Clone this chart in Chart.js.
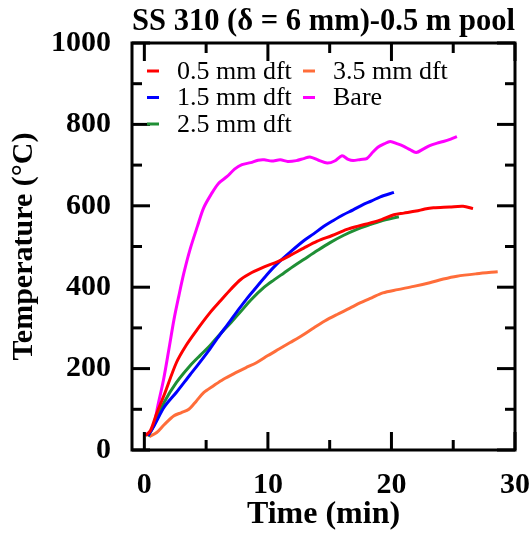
<!DOCTYPE html>
<html>
<head>
<meta charset="utf-8">
<script src="https://cdn.jsdelivr.net/npm/chart.js@4.4.1/dist/chart.umd.min.js"></script>
<style>
html, body { margin: 0; padding: 0; background: #fff; }
#wrap { width: 531px; height: 534px; }
</style>
</head>
<body>
<div id="wrap"><canvas id="tempChart"></canvas></div>
<script>
// Values: time (min) and temperature (degC) for each coating
var time05 = [0.1, 0.5, 1.0, 1.6, 2.6, 3.4, 4.3, 5.3, 6.2, 7.0, 7.8, 8.7, 9.7, 10.8, 11.8, 12.9, 14.0, 15.2, 16.4, 17.3, 18.3, 19.2, 20.2, 21.0, 22.0, 22.7, 23.4, 24.7, 25.8, 26.6];
var temp05 = [35, 48, 90, 135, 215, 258, 297, 337, 368, 395, 419, 436, 450, 463, 478, 496, 513, 527, 542, 550, 558, 566, 578, 582, 587, 592, 595, 597, 599, 593];

var time15 = [0.3, 0.8, 1.6, 2.6, 3.7, 4.3, 5.3, 5.9, 6.7, 7.5, 8.3, 9.1, 9.9, 10.7, 11.8, 12.9, 13.7, 14.5, 15.3, 16.1, 16.9, 17.7, 18.4, 19.1, 20.2];
var temp15 = [35, 60, 105, 142, 185, 208, 248, 274, 307, 340, 372, 401, 430, 456, 486, 514, 531, 549, 564, 578, 590, 603, 612, 622, 633];

var time25 = [0.3, 0.8, 1.6, 2.6, 3.7, 4.5, 5.3, 6.1, 7.0, 7.8, 8.6, 9.7, 10.5, 11.3, 12.1, 12.9, 14.0, 15.0, 16.1, 17.2, 18.2, 19.1, 20.6];
var temp25 = [33, 62, 117, 166, 207, 232, 256, 284, 313, 340, 368, 400, 418, 435, 452, 468, 490, 509, 527, 542, 553, 562, 573];

var time35 = [0.4, 1.0, 1.6, 2.4, 3.0, 3.6, 4.2, 4.8, 5.6, 6.4, 7.4, 8.2, 9.1, 10.0, 10.9, 11.8, 12.8, 13.7, 14.6, 15.6, 16.6, 17.5, 18.4, 19.3, 20.5, 21.8, 23.1, 24.2, 25.3, 26.9, 28.6];
var temp35 = [33, 43, 62, 84, 92, 100, 120, 141, 158, 174, 190, 202, 215, 232, 248, 264, 282, 300, 317, 333, 348, 362, 374, 386, 394, 402, 411, 420, 427, 433, 438];

var timeBare = [0, 0.4, 0.75, 1.1, 1.56, 2.0, 2.4, 2.8, 3.2, 3.7, 4.3, 4.8, 5.4, 6.0, 6.7, 7.3, 7.9, 8.6, 9.2, 9.7, 10.3, 11.0, 11.6, 12.3, 12.9, 13.4, 14.1, 14.8, 15.4, 16.0, 16.5, 16.9, 17.5, 18.0, 18.5, 18.9, 19.4, 19.9, 20.5, 21.0, 21.5, 22.0, 22.6, 23.1, 23.7, 24.2, 24.8, 25.3];
var tempBare = [38, 42, 60, 110, 174, 250, 321, 380, 435, 493, 550, 595, 628, 655, 672, 690, 701, 706, 712, 713, 710, 713, 709, 711, 716, 720, 712, 705, 710, 723, 714, 711, 714, 716, 732, 744, 752, 758, 752, 746, 738, 731, 740, 748, 754, 758, 764, 770];

var seriesLabels = ["0.5 mm dft", "1.5 mm dft", "2.5 mm dft", "3.5 mm dft", "Bare"];
var seriesColors = ["#ff0000", "#0000ff", "#1f8f35", "#ff6d3a", "#ff00ff"];

var xTicks = [0, 10, 20, 30];
var xMinorTicks = [5, 15, 25];
var yTicks = [0, 200, 400, 600, 800, 1000];
var yMinorTicks = [100, 300, 500, 700, 900];

function toPoints(times, temps){
    return times.map(function(t, i){ return {x: t, y: temps[i]}; });
}

var allTimes = [time05, time15, time25, time35, timeBare];
var allTemps = [temp05, temp15, temp25, temp35, tempBare];

// Frame round the plot with inward ticks on all four sides
var frameTicks = {
    id: 'frameTicks',
    afterDatasetsDraw: function(chart){
        var ctx = chart.ctx;
        var a = chart.chartArea;
        var xs = chart.scales.x;
        var ys = chart.scales.y;
        function seg(x1, y1, x2, y2){
            ctx.beginPath();
            ctx.moveTo(x1, y1);
            ctx.lineTo(x2, y2);
            ctx.stroke();
        }
        ctx.save();
        ctx.strokeStyle = '#000';
        ctx.lineWidth = 3;
        xTicks.concat(xMinorTicks).forEach(function(v){
            var len = xTicks.indexOf(v) >= 0 ? 18 : 10;
            var px = xs.getPixelForValue(v);
            seg(px, a.bottom, px, a.bottom - len);
            seg(px, a.top, px, a.top + len);
        });
        yTicks.concat(yMinorTicks).forEach(function(v){
            var len = yTicks.indexOf(v) >= 0 ? 18 : 10;
            var py = ys.getPixelForValue(v);
            seg(a.left, py, a.left + len, py);
            seg(a.right, py, a.right - len, py);
        });
        ctx.strokeRect(a.left, a.top, a.right - a.left, a.bottom - a.top);
        ctx.restore();
    }
};

// Legend sits inside the plot, two columns
var insideLegend = {
    id: 'insideLegend',
    afterDraw: function(chart){
        var ctx = chart.ctx;
        var a = chart.chartArea;
        ctx.save();
        ctx.font = '26px "Liberation Serif", "Times New Roman", serif';
        ctx.textBaseline = 'middle';
        chart.data.datasets.forEach(function(ds, i){
            var col = i < 3 ? 0 : 1;
            var row = i < 3 ? i : i - 3;
            var x = a.left + 15 + col * 156;
            var y = a.top + 28 + row * 26.5;
            ctx.strokeStyle = ds.borderColor;
            ctx.lineWidth = 3;
            ctx.beginPath();
            ctx.moveTo(x, y);
            ctx.lineTo(x + 12, y);
            ctx.stroke();
            ctx.fillStyle = '#000';
            ctx.fillText(ds.label, x + 30, y + 1);
        });
        ctx.restore();
    }
};

Chart.defaults.font.family = '"Liberation Serif", "Times New Roman", serif';
Chart.defaults.color = '#000';

new Chart(document.getElementById('tempChart'), {
    type: 'line',
    data: {
        datasets: seriesLabels.map(function(label, i){
            return {
                label: label,
                data: toPoints(allTimes[i], allTemps[i]),
                borderColor: seriesColors[i],
                backgroundColor: seriesColors[i],
                borderWidth: 3,
                pointRadius: 0,
                tension: 0.3,
                fill: false
            };
        })
    },
    options: {
        responsive: true,
        maintainAspectRatio: false,
        animation: false,
        layout: { padding: { left: 0, right: 16, top: 0, bottom: 0 } },
        plugins: {
            legend: { display: false },
            tooltip: { enabled: false },
            title: {
                display: true,
                fullSize: false,
                text: 'SS 310 (\u03b4 = 6 mm)-0.5 m pool',
                font: { size: 32, weight: 'bold' },
                padding: { top: 3, bottom: 1.6 }
            }
        },
        scales: {
            x: {
                type: 'linear',
                min: -1,
                max: 30,
                afterFit: function(s){
                    s.height = 84;
                    s.paddingLeft = 0;
                    s.paddingRight = 0;
                },
                afterBuildTicks: function(s){ s.ticks = xTicks.map(function(v){ return {value: v}; }); },
                grid: { display: false, drawTicks: false },
                border: { display: false },
                ticks: {
                    font: { size: 30, weight: 'bold' },
                    padding: 17,
                    maxRotation: 0,
                    callback: function(value){ return String(value); }
                },
                title: {
                    display: true,
                    text: 'Time (min)',
                    font: { size: 32, weight: 'bold' },
                    padding: 0
                }
            },
            y: {
                type: 'linear',
                min: 0,
                max: 1000,
                afterFit: function(s){
                    s.width = 132;
                    s.paddingTop = 0;
                    s.paddingBottom = 0;
                },
                afterBuildTicks: function(s){ s.ticks = yTicks.map(function(v){ return {value: v}; }); },
                grid: { display: false, drawTicks: false },
                border: { display: false },
                ticks: {
                    font: { size: 30, weight: 'bold' },
                    padding: 21,
                    callback: function(value){ return String(value); }
                },
                title: {
                    display: true,
                    text: 'Temperature (\u00b0C)',
                    font: { size: 30, weight: 'bold' },
                    padding: { top: 6, bottom: 0 }
                }
            }
        }
    },
    plugins: [frameTicks, insideLegend]
});
</script>
</body>
</html>
